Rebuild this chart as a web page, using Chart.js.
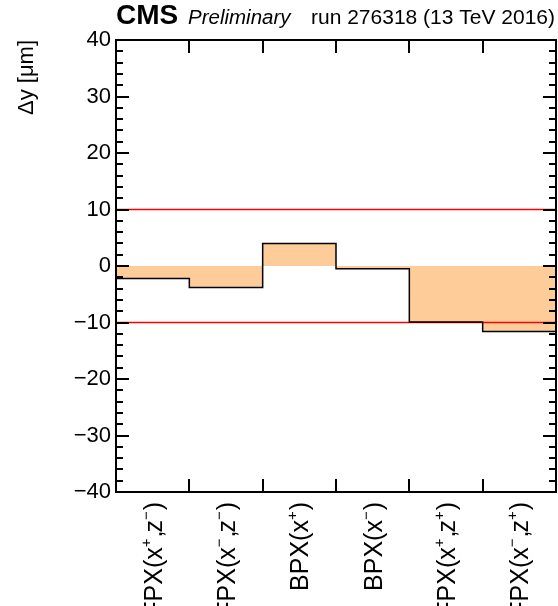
<!DOCTYPE html>
<html>
<head>
<meta charset="utf-8">
<script src="https://cdn.jsdelivr.net/npm/chart.js@4/dist/chart.umd.min.js"></script>
<style>
  html, body { margin: 0; padding: 0; background: #fff; }
  #wrap { width: 558px; height: 606px; position: relative; }
</style>
</head>
<body>
<div id="wrap"><canvas id="shift"></canvas></div>
<script>
// module labels, '^' marks a one-character superscript
const modules = ['FPX(x^+,z^-)', 'FPX(x^-,z^-)', 'BPX(x^+)', 'BPX(x^-)', 'FPX(x^+,z^+)', 'FPX(x^-,z^+)'];
// mean y shift per module [um]
const deltaY = [-2.2, -3.8, 4.0, -0.5, -9.9, -11.6];
// tolerance band [um]
const limits = [10, -10];
const yRange = [-40, 40];

const FONT = '"Liberation Sans", Arial, Helvetica, sans-serif';
const FILL = '#fecc99';

// histogram steps on the edge axis: bin i spans [i, i+1]
const steps = deltaY.map((v, i) => ({ x: i, y: v }));
steps.push({ x: deltaY.length, y: deltaY[deltaY.length - 1] });

const limitSets = limits.map(l => ({
  xAxisID: 'xe',
  data: [{ x: 0, y: l }, { x: modules.length, y: l }],
  borderColor: '#ff0000',
  borderWidth: 1.5,
  pointRadius: 0,
  fill: false,
  order: 2
}));

const fmt = v => (v < 0 ? '\u2212' + (-v) : String(v));

// frame with inward ticks, ROOT style
const frame = {
  id: 'frame',
  afterDatasetsDraw(chart) {
    const { ctx, chartArea: a, scales } = chart;
    ctx.save();
    ctx.strokeStyle = '#000';
    ctx.lineWidth = 2;
    ctx.strokeRect(a.left, a.top, a.right - a.left, a.bottom - a.top);
    ctx.beginPath();
    scales.y.ticks.forEach(t => {
      const py = Math.round(scales.y.getPixelForValue(t.value));
      const len = t.value % 10 === 0 ? 13 : 7;
      ctx.moveTo(a.left, py); ctx.lineTo(a.left + len, py);
      ctx.moveTo(a.right, py); ctx.lineTo(a.right - len, py);
    });
    for (let i = 1; i < modules.length; i++) {
      const px = Math.round(scales.xe.getPixelForValue(i));
      ctx.moveTo(px, a.bottom); ctx.lineTo(px, a.bottom - 13);
      ctx.moveTo(px, a.top); ctx.lineTo(px, a.top + 13);
    }
    ctx.stroke();
    ctx.restore();
  }
};

// rotated category labels with superscripts
const binLabels = {
  id: 'binLabels',
  afterDraw(chart) {
    const { ctx, chartArea: a, scales } = chart;
    const size = 25, sup = 15;
    ctx.save();
    ctx.fillStyle = '#000';
    ctx.textBaseline = 'alphabetic';
    modules.forEach((txt, i) => {
      const parts = [];
      for (let k = 0; k < txt.length; k++) {
        if (txt[k] === '^') {
          const c = txt[++k] === '-' ? '\u2212' : txt[k];
          parts.push({ s: c, sup: true });
        } else {
          parts.push({ s: txt[k], sup: false });
        }
      }
      let w = 0;
      parts.forEach(p => {
        ctx.font = (p.sup ? sup : size) + 'px ' + FONT;
        // commas sit tight against the superscript
        p.w = ctx.measureText(p.s).width + (p.sup ? 1 : 0) - (p.s === ',' ? 2 : 0);
        w += p.w;
      });
      const cx = scales.xe.getPixelForValue(i + 0.5);
      ctx.save();
      ctx.translate(cx + 9, a.bottom + 10);
      ctx.rotate(-Math.PI / 2);
      let x = -w;
      parts.forEach(p => {
        ctx.font = (p.sup ? sup : size) + 'px ' + FONT;
        ctx.fillText(p.s, x, p.sup ? -11 : 0);
        x += p.w;
      });
      ctx.restore();
    });
    ctx.restore();
  }
};

const header = {
  id: 'header',
  afterDraw(chart) {
    const { ctx } = chart;
    ctx.save();
    ctx.fillStyle = '#000';
    ctx.textBaseline = 'alphabetic';
    ctx.font = 'bold 28px ' + FONT;
    ctx.textAlign = 'left';
    ctx.fillText('CMS', 116, 24);
    ctx.font = 'italic 20.5px ' + FONT;
    ctx.fillText('Preliminary', 188, 24);
    ctx.font = '21px ' + FONT;
    ctx.textAlign = 'right';
    ctx.fillText('run 276318 (13 TeV 2016)', 555, 24);
    ctx.restore();
  }
};

new Chart(document.getElementById('shift'), {
  type: 'line',
  data: {
    datasets: [
      {
        // filled area between the steps and zero
        xAxisID: 'xe',
        data: steps,
        stepped: 'before',
        borderWidth: 0,
        borderColor: 'rgba(0,0,0,0)',
        backgroundColor: FILL,
        pointRadius: 0,
        fill: 'origin',
        order: 3
      },
      ...limitSets,
      {
        xAxisID: 'xe',
        data: steps,
        stepped: 'before',
        borderColor: '#000',
        borderWidth: 1.5,
        pointRadius: 0,
        fill: false,
        order: 1
      }
    ]
  },
  options: {
    responsive: true,
    maintainAspectRatio: false,
    animation: false,
    layout: { padding: { top: 40, right: 2, bottom: 114, left: 0 } },
    plugins: { legend: { display: false }, tooltip: { enabled: false } },
    scales: {
      x: { display: false },
      xe: { type: 'linear', display: false, min: 0, max: modules.length },
      y: {
        min: yRange[0],
        max: yRange[1],
        afterFit(scale) { scale.width = 116; },
        border: { display: false },
        grid: { display: false, drawTicks: false },
        ticks: {
          stepSize: 2,
          autoSkip: false,
          padding: 5,
          color: '#000',
          font: { family: FONT, size: 22 },
          callback: v => (v % 10 === 0 ? fmt(v) : '')
        },
        title: {
          display: true,
          text: '\u0394y [\u03bcm]',
          align: 'end',
          color: '#000',
          font: { family: FONT, size: 22 },
          padding: { top: 14, bottom: 0 }
        }
      }
    }
  },
  plugins: [frame, binLabels, header]
});
</script>
</body>
</html>
